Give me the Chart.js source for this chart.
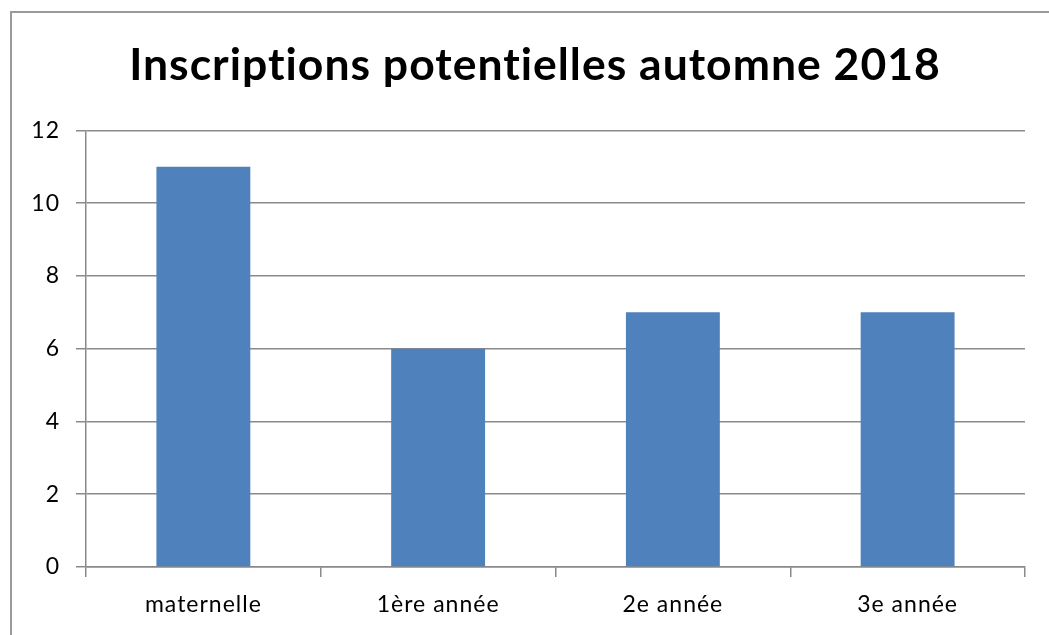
<!DOCTYPE html>
<html><head><meta charset="utf-8">
<script src="https://cdn.jsdelivr.net/npm/chart.js@4/dist/chart.umd.min.js"></script>
<style>
html,body{margin:0;padding:0;background:#fff;overflow:hidden;}
#wrap{position:relative;width:1049px;height:635px;}
#frame{position:absolute;left:10px;top:11px;width:1200px;height:800px;border:2px solid #9a9a9a;box-sizing:border-box;}
canvas{position:absolute;left:0;top:0;}
</style></head>
<body><div id="wrap"><div id="frame"></div><canvas id="c" width="1049" height="635"></canvas></div>
<script>
const titleText = "Inscriptions potentielles automne 2018";
const categories = ["maternelle", "1ère année", "2e année", "3e année"];
const values = [11, 6, 7, 7];
const yMin = 0, yMax = 12, yStep = 2;

const gridColor = "#8a8a8a";
const helperPlugin = {
  id: "helper",
  afterLayout(chart) {
    const tb = chart.titleBlock;
    if (tb) { tb.left = 45; tb.right = 1025; }
  },
  beforeDraw(chart) { chart.ctx.letterSpacing = "1px"; }
};
new Chart(document.getElementById("c"), {
  type: "bar",
  data: { labels: categories, datasets: [{ data: values, backgroundColor: "#4F81BD", barPercentage: 0.4, categoryPercentage: 1.0 }] },
  plugins: [helperPlugin],
  options: {
    responsive: false, animation: false,
    layout: { padding: { left: 0, right: 24, top: 0, bottom: 0 } },
    plugins: {
      legend: { display: false }, tooltip: { enabled: false },
      title: { display: true, text: titleText, color: "#000",
        font: { family: "Lato", size: 44.5, weight: "bold" }, padding: { top: 39, bottom: 38 } }
    },
    scales: {
      x: {
        grid: { display: true, drawOnChartArea: false, drawTicks: true, tickLength: 10, color: gridColor, lineWidth: 1.5, offset: true },
        border: { display: true, color: gridColor, width: 1.5 },
        ticks: { color: "#000", font: { family: "Lato", size: 23 }, padding: 14 },
        afterFit: s => { s.height = 68; }
      },
      y: {
        min: yMin, max: yMax,
        grid: { color: gridColor, lineWidth: 1.5, tickLength: 10 },
        border: { display: true, color: gridColor, width: 1.5 },
        ticks: { stepSize: yStep, color: "#000", font: { family: "Lato", size: 23 }, padding: 16 },
        afterFit: s => { s.width = 86; }
      }
    }
  }
});
</script></body></html>
